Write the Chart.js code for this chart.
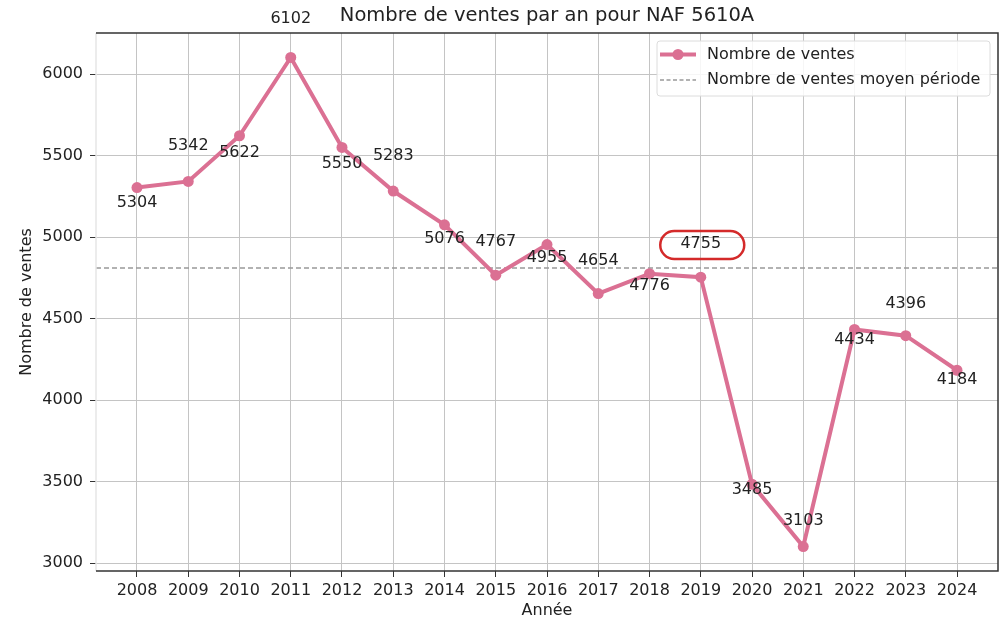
<!DOCTYPE html>
<html lang="fr">
<head>
<meta charset="utf-8">
<title>Nombre de ventes par an pour NAF 5610A</title>
<script src="https://cdn.jsdelivr.net/npm/chart.js@4/dist/chart.umd.min.js"></script>
<style>
  html, body { margin: 0; padding: 0; background: #fff; }
  #wrap { position: relative; width: 1007px; height: 622px; }
</style>
</head>
<body>
<div id="wrap"><canvas id="chart" width="1007" height="622"></canvas></div>
<script>
// Données
const years = [2008, 2009, 2010, 2011, 2012, 2013, 2014, 2015, 2016, 2017, 2018, 2019, 2020, 2021, 2022, 2023, 2024];
const ventes = [5304, 5342, 5622, 6102, 5550, 5283, 5076, 4767, 4955, 4654, 4776, 4755, 3485, 3103, 4434, 4396, 4184];
const moyennePeriode = 4811;
const yTicks = [3000, 3500, 4000, 4500, 5000, 5500, 6000];
const highlightYear = 2019;
const chartTitle = "Nombre de ventes par an pour NAF 5610A";

const X_MIN = 2007.2;
const X_MAX = 2024.8;
const Y_MIN = 2953;
const Y_MAX = 6252;

const FONT = "'DejaVu Sans', sans-serif";
const PINK = "#db7093";
const TEXT = "#222222";

// Titre centré sur la zone de tracé (comme matplotlib)
const axesTitle = {
  id: "axesTitle",
  afterDraw(chart) {
    const { ctx, chartArea: a } = chart;
    ctx.save();
    ctx.font = `19.5px ${FONT}`;
    ctx.fillStyle = TEXT;
    ctx.textAlign = "center";
    ctx.textBaseline = "middle";
    ctx.fillText(chartTitle, (a.left + a.right) / 2, 16);
    ctx.restore();
  },
};

// Étiquettes de valeurs, alternées dessous / dessus
const valueLabels = {
  id: "valueLabels",
  afterDatasetsDraw(chart) {
    const { ctx, scales } = chart;
    ctx.save();
    ctx.font = `16px ${FONT}`;
    ctx.fillStyle = TEXT;
    ctx.textAlign = "center";
    ctx.textBaseline = "middle";
    ventes.forEach((v, i) => {
      const x = scales.x.getPixelForValue(years[i]);
      const yv = i % 2 === 0 ? v * 0.967 + 81 : v * 1.027 + 75;
      const y = scales.y.getPixelForValue(yv);
      ctx.fillText(String(v), x, y);
      if (years[i] === highlightYear) {
        const w = 84, h = 28, r = 14;
        ctx.strokeStyle = "#d42a2a";
        ctx.lineWidth = 2.5;
        ctx.beginPath();
        ctx.roundRect(x + 1.5 - w / 2, y + 1 - h / 2, w, h, r);
        ctx.stroke();
      }
    });
    ctx.restore();
  },
};

// Cadre des axes, façon matplotlib
const frame = {
  id: "frame",
  afterDraw(chart) {
    const { ctx, chartArea: a } = chart;
    ctx.save();
    ctx.lineWidth = 1.5;
    ctx.strokeStyle = "#e6e6e6";
    ctx.beginPath();
    ctx.moveTo(a.left, a.top);
    ctx.lineTo(a.left, a.bottom);
    ctx.stroke();
    ctx.strokeStyle = "#333";
    ctx.beginPath();
    ctx.moveTo(a.left, a.top);
    ctx.lineTo(a.right, a.top);
    ctx.lineTo(a.right, a.bottom);
    ctx.lineTo(a.left, a.bottom);
    ctx.stroke();
    ctx.restore();
  },
};

// Légende dans le coin supérieur droit
const insideLegend = {
  id: "insideLegend",
  afterDraw(chart) {
    const { ctx, chartArea: a } = chart;
    const x0 = a.right - 341, y0 = a.top + 8, w = 333, h = 55;
    ctx.save();
    ctx.fillStyle = "rgba(255,255,255,0.85)";
    ctx.strokeStyle = "#dcdcdc";
    ctx.lineWidth = 1;
    ctx.beginPath();
    ctx.roundRect(x0, y0, w, h, 3);
    ctx.fill();
    ctx.stroke();

    const row1 = y0 + 13.5, row2 = y0 + 39;
    ctx.strokeStyle = PINK;
    ctx.lineWidth = 4;
    ctx.beginPath();
    ctx.moveTo(x0 + 3, row1);
    ctx.lineTo(x0 + 39, row1);
    ctx.stroke();
    ctx.fillStyle = PINK;
    ctx.beginPath();
    ctx.arc(x0 + 21, row1, 5.5, 0, Math.PI * 2);
    ctx.fill();

    ctx.strokeStyle = "#999";
    ctx.lineWidth = 1.3;
    ctx.setLineDash([4, 2.5]);
    ctx.beginPath();
    ctx.moveTo(x0 + 3, row2);
    ctx.lineTo(x0 + 39, row2);
    ctx.stroke();
    ctx.setLineDash([]);

    ctx.fillStyle = TEXT;
    ctx.font = `16px ${FONT}`;
    ctx.textAlign = "left";
    ctx.textBaseline = "middle";
    ctx.fillText("Nombre de ventes", x0 + 50, row1);
    ctx.fillText("Nombre de ventes moyen période", x0 + 50, row2);
    ctx.restore();
  },
};

new Chart(document.getElementById("chart"), {
  type: "line",
  data: {
    datasets: [
      {
        label: "Nombre de ventes",
        data: years.map((y, i) => ({ x: y, y: ventes[i] })),
        borderColor: PINK,
        backgroundColor: PINK,
        borderWidth: 4,
        pointRadius: 5.5,
        pointHoverRadius: 5.5,
        pointBackgroundColor: PINK,
        pointBorderWidth: 0,
        tension: 0,
        order: 1,
      },
      {
        label: "Nombre de ventes moyen période",
        data: [{ x: X_MIN, y: moyennePeriode }, { x: X_MAX, y: moyennePeriode }],
        borderColor: "#999",
        borderWidth: 1.3,
        borderDash: [5, 3],
        pointRadius: 0,
        order: 2,
      },
    ],
  },
  options: {
    responsive: false,
    animation: false,
    layout: { padding: { top: 33, right: 9, bottom: 0, left: 0 } },
    plugins: {
      legend: { display: false },
      tooltip: { enabled: false },
      title: { display: false },
    },
    scales: {
      x: {
        type: "linear",
        min: X_MIN,
        max: X_MAX,
        afterBuildTicks: (s) => { s.ticks = years.map((v) => ({ value: v })); },
        afterFit: (s) => { s.height = 51; },
        grid: { color: "#c4c4c4", lineWidth: 1, tickLength: 6, tickColor: "#333", drawOnChartArea: true },
        border: { display: false },
        ticks: {
          color: TEXT,
          font: { family: FONT, size: 16 },
          padding: 4,
          maxRotation: 0,
          autoSkip: false,
          callback: (v) => String(v),
        },
        title: {
          display: true,
          text: "Année",
          color: TEXT,
          font: { family: FONT, size: 16 },
          padding: { top: 1, bottom: 2 },
        },
      },
      y: {
        min: Y_MIN,
        max: Y_MAX,
        afterBuildTicks: (s) => { s.ticks = yTicks.map((v) => ({ value: v })); },
        afterFit: (s) => { s.width = 96; },
        grid: { color: "#c4c4c4", lineWidth: 1, tickLength: 6, tickColor: "#333" },
        border: { display: false },
        ticks: {
          color: TEXT,
          font: { family: FONT, size: 16 },
          padding: 7,
          callback: (v) => String(v),
        },
        title: {
          display: true,
          text: "Nombre de ventes",
          color: TEXT,
          font: { family: FONT, size: 16 },
          padding: { top: 17, bottom: 2 },
        },
      },
    },
  },
  plugins: [valueLabels, frame, insideLegend, axesTitle],
});
</script>
</body>
</html>
